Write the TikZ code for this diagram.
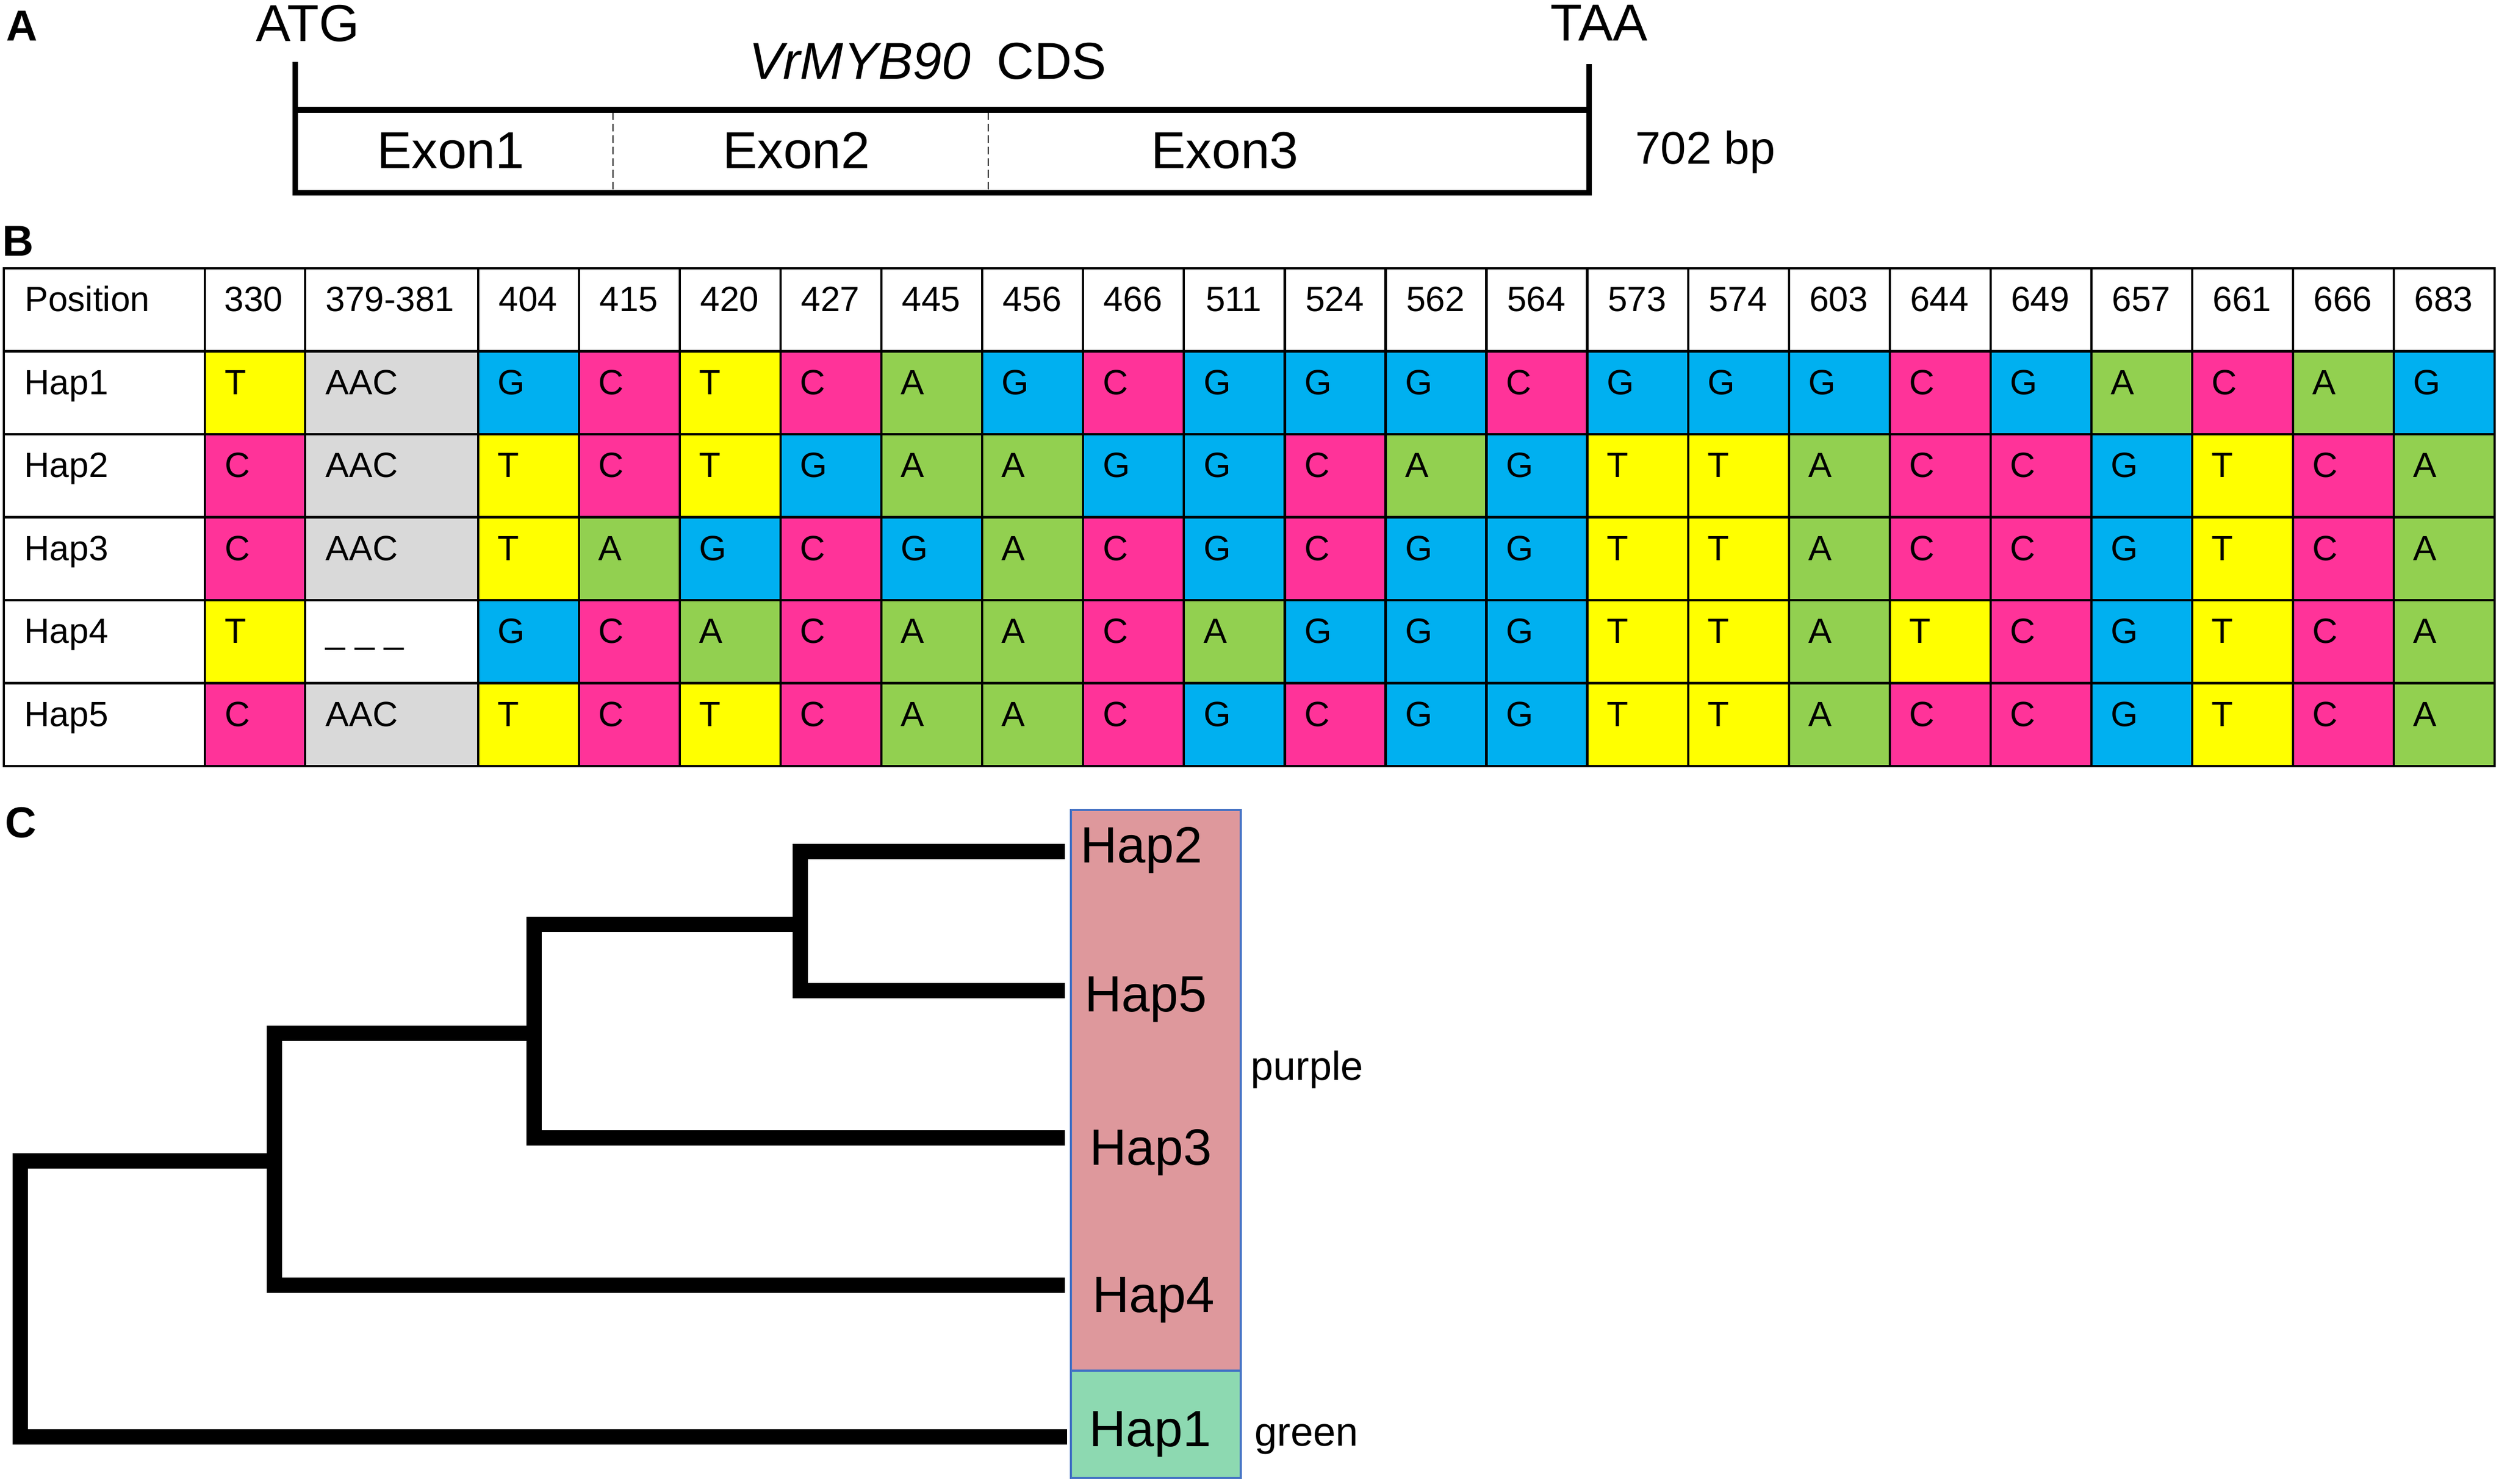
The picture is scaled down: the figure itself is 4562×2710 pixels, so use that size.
\documentclass[tikz,border=0pt]{standalone}
\usepackage{fontspec}
\setmainfont{Liberation Sans}
\definecolor{nA}{HTML}{92D050}
\definecolor{nC}{HTML}{FF3399}
\definecolor{nG}{HTML}{00B0F0}
\definecolor{nT}{HTML}{FFFF00}
\definecolor{nGap}{HTML}{D9D9D9}
\definecolor{treePink}{HTML}{DE989C}
\definecolor{treeGreen}{HTML}{8DD9B1}
\definecolor{boxBlue}{HTML}{4472C4}
\begin{document}
\begin{tikzpicture}[x=0.01cm,y=-0.01cm,
  plabel/.style={font=\fontsize{22.5}{26}\selectfont\bfseries, inner sep=0pt, anchor=base},
  txtA/.style={font=\fontsize{27}{31}\selectfont, inner sep=0pt, anchor=base},
  txtBp/.style={font=\fontsize{23.8}{28}\selectfont, inner sep=0pt, anchor=base},
  cdsline/.style={line width=2.9pt},
  exondiv/.style={line width=0.8pt, dash pattern=on 4pt off 2pt},
  tbl/.style={font=\fontsize{18.2}{21}\selectfont, inner sep=0pt},
  tblc/.style={tbl, anchor=base},
  tblw/.style={tbl, anchor=base west},
  grid/.style={line width=1.2pt},
  branch/.style={line width=8pt, line join=miter, line cap=butt},
  hapt/.style={font=\fontsize{26.5}{30}\selectfont, inner sep=0pt, anchor=base},
  clade/.style={font=\fontsize{21}{25}\selectfont, inner sep=0pt, anchor=base},
  ]
\useasboundingbox (0,0) rectangle (4562,2710);

% panel labels
\node[plabel] (labA) at (40,75) {A};
\node[plabel] (labB) at (33,468) {B};
\node[plabel] (labC) at (38,1529) {C};

% ---------- Panel A ----------
\draw[cdsline] (539,113) -- (539,357);
\draw[cdsline] (2901,117) -- (2901,357);
\draw[cdsline] (535,200.5) -- (2905,200.5);
\draw[cdsline] (535,352) -- (2905,352);
\draw[exondiv] (1119,205) -- (1119,347);
\draw[exondiv] (1804,205) -- (1804,347);
\node[txtA] (atg) at (562,76) {ATG};
\node[txtA] (taa) at (2919,75) {TAA};
\node[txtA] (cds) at (1694,145) {\textit{VrMYB90}\hspace{0.5em}CDS};
\node[txtA] (ex1) at (823,308) {Exon1};
\node[txtA] (ex2) at (1454,308) {Exon2};
\node[txtA] (ex3) at (2236,308) {Exon3};
\node[txtBp] (bp) at (3113,300) {702 bp};

% ---------- Panel B ----------
\foreach \rr/\lab/\fa/\gc/\gt/\seq in {
 1/Hap1/T/nGap/AAC/{G,C,T,C,A,G,C,G,G,G,C,G,G,G,C,G,A,C,A,G},
 2/Hap2/C/nGap/AAC/{T,C,T,G,A,A,G,G,C,A,G,T,T,A,C,C,G,T,C,A},
 3/Hap3/C/nGap/AAC/{T,A,G,C,G,A,C,G,C,G,G,T,T,A,C,C,G,T,C,A},
 4/Hap4/T/white/{\_\ \_\ \_}/{G,C,A,C,A,A,C,A,G,G,G,T,T,A,T,C,G,T,C,A},
 5/Hap5/C/nGap/AAC/{T,C,T,C,A,A,C,G,C,G,G,T,T,A,C,C,G,T,C,A}}
{
  \pgfmathsetmacro\yt{490+151.5*\rr}
  \pgfmathsetmacro\yb{490+151.5*(\rr+1)}
  \fill[n\fa] (374,\yt) rectangle (557,\yb);
  \fill[\gc] (557,\yt) rectangle (873,\yb);
  \node[tblw] (hl\rr) at (44,\yt+79) {\lab};
  \node[tblw] (c330-\rr) at (410,\yt+79) {\fa};
  \node[tblw] (cgap-\rr) at (594,\yt+79) {\gt};
  \foreach \nt [count=\k from 0] in \seq {
    \fill[n\nt] (873+184.05*\k,\yt) rectangle (873+184.05*\k+184.05,\yb);
    \node[tblw] (c\rr-\k) at (873+184.05*\k+35,\yt+79) {\nt};
  }
}
% header
\node[tblw] (hpos) at (45,569) {Position};
\node[tblc] (h330) at (463,569) {330};
\node[tblc] (h379) at (712,569) {379-381};
\foreach \pos [count=\k from 0] in {404,415,420,427,445,456,466,511,524,562,564,573,574,603,644,649,657,661,666,683}
  \node[tblc] (hp\k) at (873+184.05*\k+91,569) {\pos};
% grid
\foreach \yy in {1,...,5}
  \draw[grid] (7,490+151.5*\yy) -- (4554,490+151.5*\yy);
\foreach \xx in {374,557}
  \draw[grid] (\xx,490) -- (\xx,1399);
\foreach \k in {0,...,19}
  \draw[grid] (873+184.05*\k,490) -- (873+184.05*\k,1399);
\draw[grid] (7,490) rectangle (4554,1399);

% ---------- Panel C ----------
\filldraw[fill=treePink, draw=boxBlue, line width=1pt] (1955,1479) rectangle (2265,2503);
\filldraw[fill=treeGreen, draw=boxBlue, line width=1pt] (1955,2503) rectangle (2265,2699);

\coordinate (e2) at (1944,1555);
\coordinate (e5) at (1944,1809);
\coordinate (e3) at (1944,2078);
\coordinate (e4) at (1944,2347);
\coordinate (e1) at (1948,2624);
\coordinate (j25) at (1461,1688);
\coordinate (j253) at (975,1887);
\coordinate (j2534) at (501,2120);
\coordinate (jroot) at (37,2372);

\draw[branch] (e2) -| (j25) |- (e5);
\draw[branch] (j25) -| (j253) |- (e3);
\draw[branch] (j253) -| (j2534) |- (e4);
\draw[branch] (j2534) -| (jroot) |- (e1);

\node[hapt] (t2) at (2084,1575) {Hap2};
\node[hapt] (t5) at (2092,1847) {Hap5};
\node[hapt] (t3) at (2101,2127) {Hap3};
\node[hapt] (t4) at (2106,2396) {Hap4};
\node[hapt] (t1) at (2100,2641) {Hap1};

\node[clade] (purple) at (2386,1972) {purple};
\node[clade] (green) at (2385,2640) {green};
\end{tikzpicture}
\end{document}
